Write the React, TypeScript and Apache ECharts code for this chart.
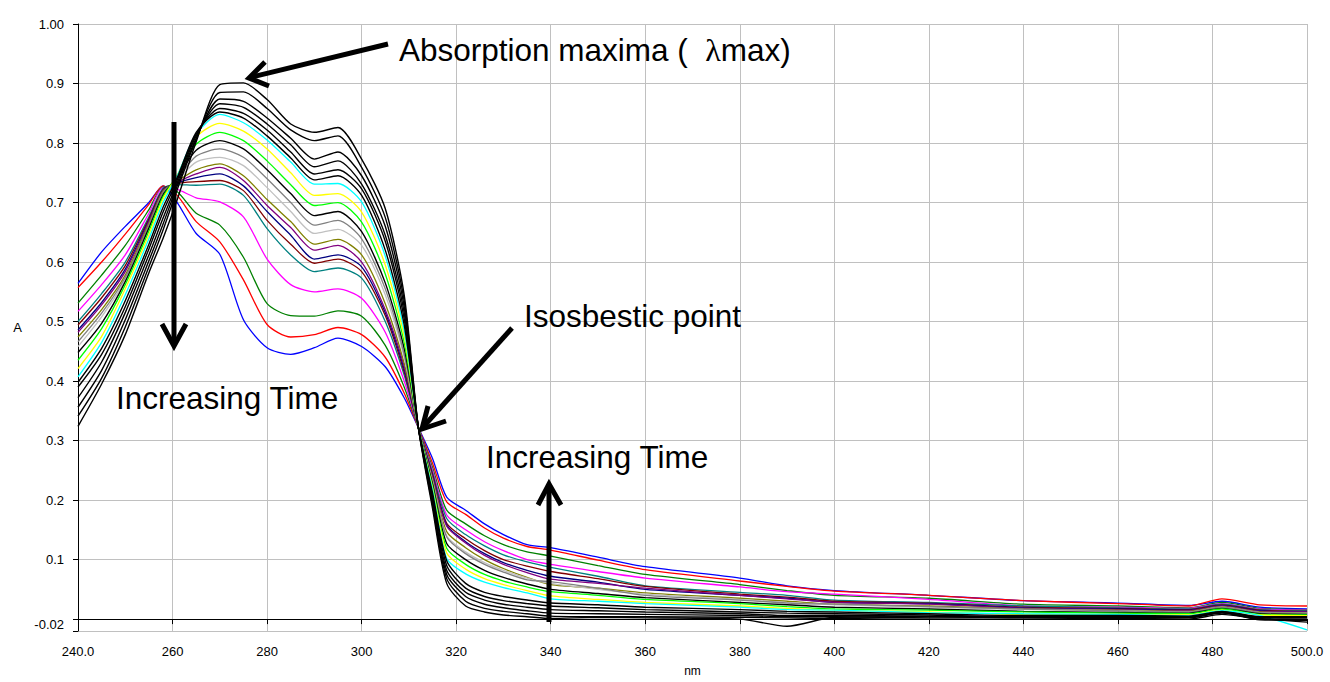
import React, { useEffect, useRef } from "react";
import * as echarts from "echarts";

const WAVELENGTHS = [240, 245, 250, 255, 258, 261, 265, 270, 275, 280, 285, 290, 295, 300, 305, 309, 312, 315, 318, 322, 326, 330, 335, 340, 350, 360, 380, 390, 400, 420, 440, 460, 475, 482, 490, 500];

const S01 = [.564, .617, .660, .700, .728, .700, .648, .613, .503, .456, .445, .456, .472, .458, .424, .372, .322, .270, .205, .183, .160, .142, .125, .120, .104, .088, .069, .056, .048, .040, .031, .027, .023, .030, .020, .017];
const S02 = [.557, .600, .647, .697, .728, .712, .668, .634, .570, .495, .474, .478, .490, .478, .440, .380, .322, .262, .197, .176, .153, .136, .122, .116, .099, .083, .064, .055, .047, .040, .031, .026, .022, .034, .024, .022];
const S03 = [.531, .578, .628, .688, .726, .718, .682, .662, .608, .530, .510, .509, .518, .509, .460, .390, .322, .255, .183, .160, .140, .125, .113, .106, .090, .075, .058, .048, .040, .035, .025, .022, .019, .028, .018, .016];
const S04 = [.517, .562, .612, .682, .725, .722, .708, .701, .676, .605, .562, .550, .555, .539, .482, .400, .322, .250, .175, .150, .130, .115, .100, .092, .080, .069, .054, .046, .042, .033, .022, .020, .018, .026, .017, .015];
const S05 = [.500, .547, .600, .676, .724, .730, .729, .731, .712, .656, .612, .584, .590, .573, .500, .410, .322, .246, .169, .142, .123, .108, .096, .087, .072, .056, .045, .040, .032, .028, .022, .019, .017, .025, .016, .014];
const S06 = [.494, .540, .594, .673, .722, .732, .735, .737, .720, .670, .630, .598, .605, .584, .510, .415, .322, .243, .161, .135, .115, .100, .089, .080, .068, .055, .042, .037, .030, .027, .020, .018, .016, .024, .015, .013];
const S07 = [.486, .532, .588, .670, .721, .733, .742, .748, .728, .685, .645, .605, .612, .592, .515, .420, .322, .240, .158, .130, .110, .095, .082, .072, .062, .050, .040, .035, .028, .026, .019, .017, .015, .023, .014, .012];
const S08 = [.482, .528, .584, .668, .720, .734, .748, .759, .737, .695, .658, .620, .628, .600, .520, .425, .322, .238, .156, .128, .107, .092, .078, .067, .060, .052, .040, .034, .028, .025, .018, .016, .014, .022, .013, .012];
const S09 = [.474, .520, .578, .665, .719, .736, .755, .765, .745, .705, .668, .630, .638, .612, .530, .430, .322, .235, .147, .120, .100, .085, .070, .058, .052, .044, .035, .030, .025, .022, .017, .015, .013, .021, .012, .011];
const S10 = [.458, .508, .570, .660, .716, .738, .768, .776, .762, .725, .685, .648, .655, .628, .545, .440, .322, .232, .140, .113, .095, .082, .069, .060, .050, .042, .033, .028, .024, .020, .016, .014, .012, .020, .011, .010];
const S11 = [.466, .514, .574, .662, .717, .740, .778, .790, .776, .740, .700, .662, .670, .639, .555, .445, .322, .230, .138, .110, .092, .079, .066, .063, .052, .040, .032, .027, .025, .021, .017, .014, .012, .020, .011, .010];
const S12 = [.448, .497, .567, .657, .713, .742, .788, .804, .790, .755, .715, .678, .685, .651, .565, .455, .322, .227, .127, .100, .082, .070, .059, .050, .043, .036, .028, .024, .020, .017, .013, .011, .010, .018, .009, .008];
const S13 = [.435, .488, .562, .652, .710, .745, .798, .818, .804, .770, .730, .695, .700, .667, .580, .465, .322, .223, .119, .092, .075, .064, .054, .046, .040, .033, .026, .021, .017, .015, .012, .010, .009, .017, .008, .007];
const S14 = [.421, .475, .555, .646, .706, .746, .810, .833, .820, .790, .750, .712, .715, .684, .595, .475, .322, .220, .111, .084, .068, .058, .048, .039, .033, .028, .022, .018, .015, .012, .008, .008, .007, .015, .007, .006];
const S15 = [.407, .465, .545, .639, .700, .745, .815, .848, .834, .805, .768, .731, .732, .701, .610, .485, .322, .217, .102, .076, .062, .053, .044, .034, .030, .026, .020, .016, .015, .011, .009, .008, .006, .014, .006, -.018];
const S16 = [.398, .455, .535, .630, .692, .742, .818, .852, .842, .812, .775, .738, .745, .712, .620, .495, .322, .212, .098, .060, .045, .038, .032, .027, .024, .020, .016, .013, .012, .009, .006, .006, .005, .013, .004, .004];
const S17 = [.390, .445, .525, .622, .684, .738, .815, .858, .850, .822, .785, .748, .755, .723, .635, .505, .322, .207, .090, .052, .038, .031, .026, .022, .019, .016, .012, .010, .009, .007, .004, .004, .004, .012, .003, .002];
const S18 = [.372, .432, .515, .612, .674, .733, .812, .866, .860, .832, .797, .760, .770, .731, .645, .515, .322, .202, .082, .045, .032, .025, .020, .016, .014, .012, .009, .006, .006, .005, .002, .003, .003, .011, .000, .000];
const S19 = [.356, .418, .503, .602, .664, .728, .808, .874, .870, .842, .808, .773, .785, .745, .660, .525, .322, .197, .075, .038, .025, .019, .014, .010, .009, .008, .006, .004, .004, .002, .003, .002, .002, .010, -.001, -.002];
const S20 = [.341, .405, .491, .592, .654, .722, .806, .885, .886, .858, .822, .804, .812, .759, .675, .535, .322, .192, .068, .030, .018, .013, .009, .005, .004, .004, .003, .002, .001, .000, .000, .001, .000, .008, .001, -.005];
const S21 = [.324, .395, .478, .582, .640, .705, .802, .898, .901, .873, .832, .818, .826, .773, .690, .545, .322, .186, .060, .022, .012, .007, .004, .001, .003, .002, .000, -.012, .003, .004, .005, .004, .003, .012, .002, .003];

const SERIES_VALUES = [S01, S02, S03, S04, S05, S06, S07, S08, S09, S10, S11, S12, S13, S14, S15, S16, S17, S18, S19, S20, S21];
const SERIES_COLORS = ["#0000FF", "#FF0000", "#008000", "#FF00FF", "#008080", "#800000", "#000080", "#800080", "#808000", "#C0C0C0", "#808080", "#000000", "#00FF00", "#FFFF00", "#00FFFF", "#000000", "#000000", "#000000", "#000000", "#000000", "#000000"];

const Y_TICKS = [-0.02, 0, 0.1, 0.2, 0.3, 0.4, 0.5, 0.6, 0.7, 0.8, 0.9, 1.0];
const Y_LABELS = [-0.02, 0.1, 0.2, 0.3, 0.4, 0.5, 0.6, 0.7, 0.8, 0.9, 1.0];

const FONT = "'Liberation Sans', Arial, sans-serif";

export default function App() {
  const ref = useRef<HTMLDivElement>(null);
  useEffect(() => {
    document.body.style.margin = "0";
    const chart = echarts.init(ref.current!, null, { renderer: "svg" });
    const series = SERIES_VALUES.map((vals, k) => ({
      type: "line",
      name: "t" + (k + 1),
      data: WAVELENGTHS.map((w, i) => [w, vals[i]]),
      showSymbol: false,
      symbol: "none",
      smooth: 0.25,
      lineStyle: { color: SERIES_COLORS[k], width: SERIES_COLORS[k] === "#000000" ? 1.4 : 1.3 },
      silent: true,
    }));
    const arrowStyle = { stroke: "#000", lineWidth: 5, fill: null, lineJoin: "miter", lineCap: "butt" };
    const textEl = (t: string, x: number, y: number) => ({
      type: "text",
      x,
      y,
      style: { text: t, fill: "#000", font: `31.5px ${FONT}`, verticalAlign: "middle" },
      z: 100,
    });
    chart.setOption({
      animation: false,
      backgroundColor: "#fff",
      grid: { left: 78, right: 23, top: 24, bottom: 47, containLabel: false },
      xAxis: {
        type: "value",
        min: 240,
        max: 500,
        interval: 20,
        name: "nm",
        nameLocation: "middle",
        nameGap: 34,
        nameTextStyle: { color: "#000", fontSize: 12, fontFamily: FONT },
        axisLine: { lineStyle: { color: "#000", width: 1 } },
        axisTick: { show: true, length: 5, lineStyle: { color: "#000" } },
        axisLabel: {
          color: "#000",
          fontSize: 13,
          fontFamily: FONT,
          margin: 14,
          formatter: (v: number) => (v === 240 || v === 500 ? v.toFixed(1) : String(v)),
        },
        splitLine: { show: true, lineStyle: { color: "#c0c0c0", width: 1 } },
      },
      yAxis: {
        type: "value",
        min: -0.02,
        max: 1.0,
        name: "A",
        nameLocation: "middle",
        nameRotate: 0,
        nameGap: 56,
        nameTextStyle: { color: "#000", fontSize: 13, fontFamily: FONT },
        axisLine: { show: true, lineStyle: { color: "#000", width: 1 } },
        axisTick: { show: true, length: 5, customValues: Y_TICKS, lineStyle: { color: "#000" } },
        axisLabel: {
          color: "#000",
          fontSize: 13,
          fontFamily: FONT,
          margin: 14,
          customValues: Y_LABELS,
          formatter: (v: number) => {
            if (Math.abs(v - 1) < 1e-9) return "1.00";
            if (Math.abs(v + 0.02) < 1e-9) return "{low|-0.02}";
            return v.toFixed(1);
          },
          rich: { low: { color: "#000", fontSize: 13, fontFamily: FONT, padding: [0, 0, 14, 0] } },
        },
        splitLine: { show: true, lineStyle: { color: "#c0c0c0", width: 1 } },
      },
      series,
      graphic: [
        {
          type: "text",
          x: 399,
          y: 50,
          z: 100,
          style: {
            text: "{a|Absorption maxima (  }{l|\u03bb}{a|max)}",
            verticalAlign: "middle",
            rich: {
              a: { fill: "#000", fontSize: 31.5, fontFamily: FONT },
              l: { fill: "#000", fontSize: 32, fontFamily: "'Liberation Serif', 'DejaVu Serif', serif" },
            },
          },
        },
        textEl("Isosbestic point", 524, 316),
        textEl("Increasing Time", 116, 398),
        textEl("Increasing Time", 486, 457),
        { type: "line", shape: { x1: 388, y1: 44, x2: 252, y2: 77 }, style: arrowStyle, z: 100 },
        { type: "polyline", shape: { points: [[269, 86], [249, 78], [265, 62]] }, style: arrowStyle, z: 100 },
        { type: "line", shape: { x1: 512, y1: 328, x2: 424, y2: 426 }, style: arrowStyle, z: 100 },
        { type: "polyline", shape: { points: [[446, 421], [422, 429], [428, 406]] }, style: arrowStyle, z: 100 },
        { type: "line", shape: { x1: 174, y1: 122, x2: 174, y2: 344 }, style: arrowStyle, z: 100 },
        { type: "polyline", shape: { points: [[162, 324], [174, 346], [186, 324]] }, style: arrowStyle, z: 100 },
        { type: "line", shape: { x1: 549, y1: 622, x2: 549, y2: 486 }, style: arrowStyle, z: 100 },
        { type: "polyline", shape: { points: [[538, 505], [549, 484], [561, 505]] }, style: arrowStyle, z: 100 },
      ],
    });
    return () => chart.dispose();
  }, []);
  return <div ref={ref} style={{ width: 1330, height: 682 }} />;
}
